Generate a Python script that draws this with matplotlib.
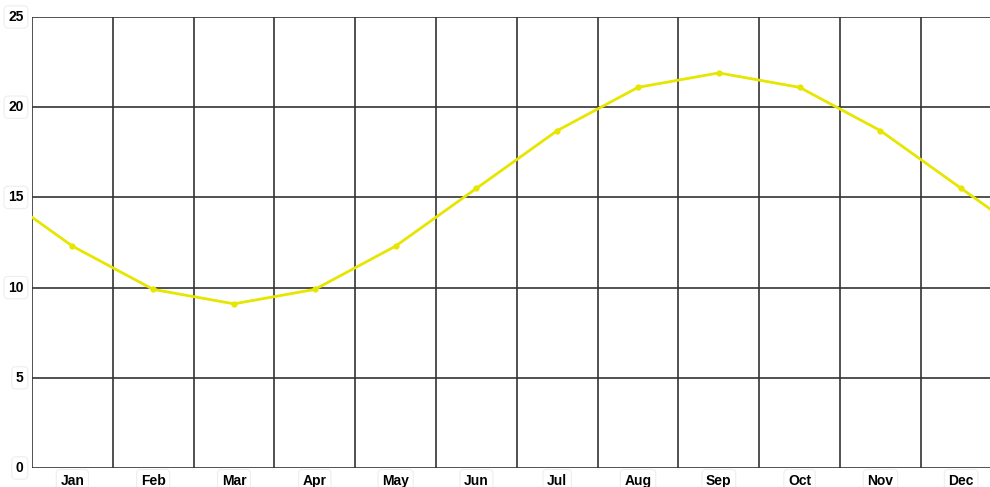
import matplotlib
matplotlib.use("Agg")
import matplotlib.pyplot as plt

# monthly values
months = ["Jan", "Feb", "Mar", "Apr", "May", "Jun",
          "Jul", "Aug", "Sep", "Oct", "Nov", "Dec"]
values = [12.3, 9.9, 9.1, 9.9, 12.3, 15.5, 18.7, 21.1, 21.9, 21.1, 18.7, 15.5]
# the curve wraps: previous Dec and next Jan are drawn beyond the edges
prev_dec = 15.5
next_jan = 12.3
y_ticks = [0, 5, 10, 15, 20, 25]

LINE_COLOR = "#e6e600"
GRID_COLOR = "#333333"

plt.rcParams["font.family"] = ["Liberation Sans", "DejaVu Sans"]

fig = plt.figure(figsize=(9.9, 4.87), dpi=100)
ax = fig.add_axes([32 / 990, 19 / 487, 958 / 990, 451 / 487])

xs = [i + 0.5 for i in range(-1, 13)]
ys = [prev_dec] + values + [next_jan]
ax.plot(xs, ys, color=LINE_COLOR, lw=2, marker="o", ms=4.5,
        markeredgewidth=0, zorder=3, clip_on=True)

ax.set_xlim(0, 958 / 80.8)
ax.set_ylim(0, 25)

for x in range(0, 12):
    ax.axvline(x, color=GRID_COLOR, lw=1.2, zorder=1)
for y in y_ticks:
    ax.axhline(y, color=GRID_COLOR, lw=1.2, zorder=1)

for s in ax.spines.values():
    s.set_visible(False)
ax.set_xticks([])
ax.set_yticks([])

box = dict(boxstyle="round,pad=0.3", fc="white", ec="#eeeeee", lw=0.8)
for y in y_ticks:
    ax.annotate(str(y), xy=(0, y), xytext=(-6, 0), textcoords="offset points",
                ha="right", va="center", fontsize=10, fontweight="bold",
                bbox=box, annotation_clip=False)
for i, m in enumerate(months):
    ax.annotate(m, xy=(i + 0.5, 0), xytext=(0, -4), textcoords="offset points",
                ha="center", va="top", fontsize=10, fontweight="bold",
                bbox=box, annotation_clip=False)

fig.savefig("out.png", dpi=100)
